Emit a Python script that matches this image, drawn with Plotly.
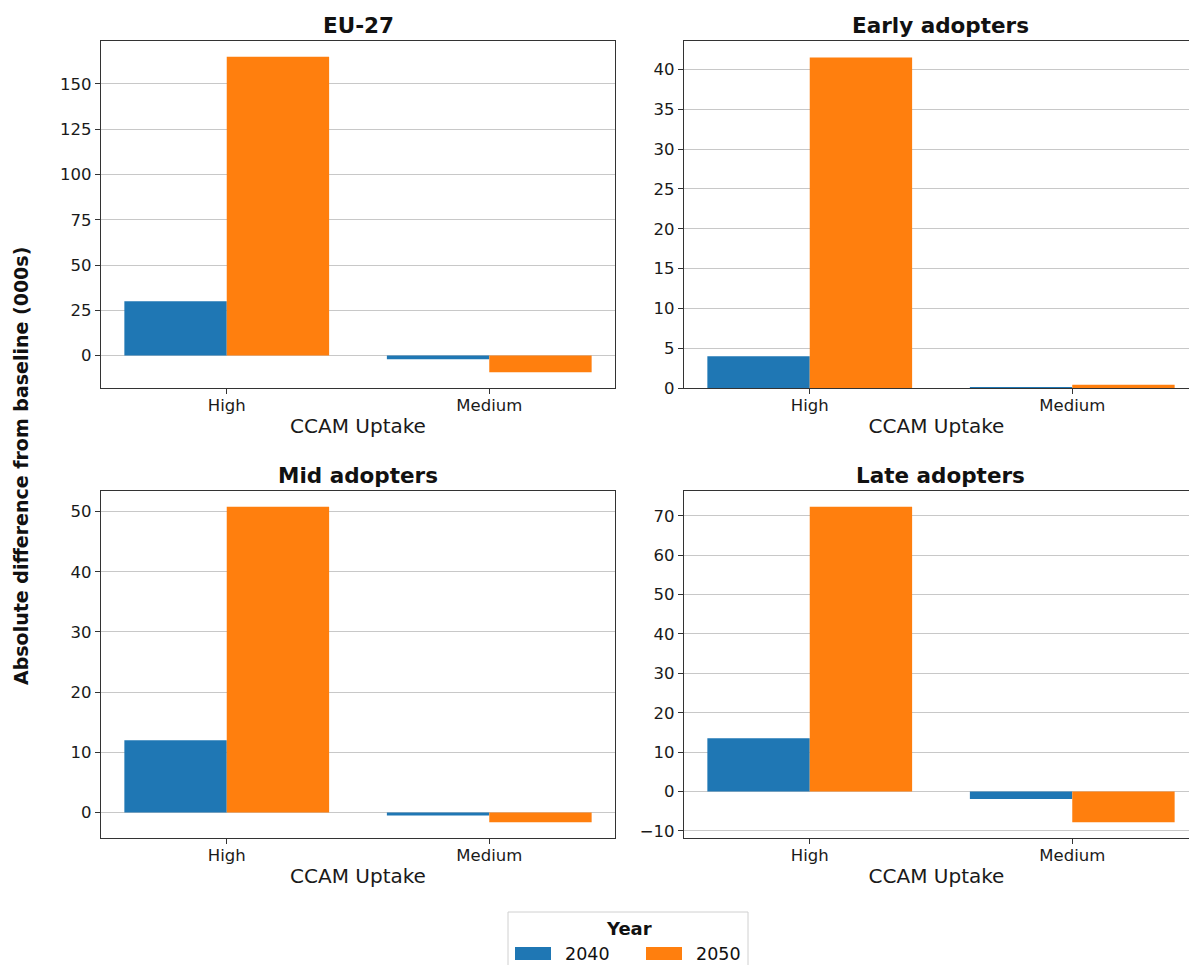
import plotly.graph_objects as go

W, H = 1189, 965

categories = ["High", "Medium"]
years = ["2040", "2050"]
colors = ["#1f77b4", "#ff7f0e"]

panel_titles = ["EU-27", "Early adopters", "Mid adopters", "Late adopters"]
eu27_2040 = [30.0, -2.0]
eu27_2050 = [165.0, -9.2]
early_2040 = [4.0, 0.05]
early_2050 = [41.5, 0.4]
mid_2040 = [12.0, -0.5]
mid_2050 = [50.8, -1.6]
late_2040 = [13.5, -1.9]
late_2050 = [72.3, -7.8]
panel_dticks = [25, 5, 10, 10]

panels = [
    (eu27_2040, eu27_2050),
    (early_2040, early_2050),
    (mid_2040, mid_2050),
    (late_2040, late_2050),
]

# pixel boxes of the four plot areas (left, right, top, bottom); right column is cut by the page edge
PANEL_W = 514
boxes = [
    (101, 101 + PANEL_W, 41, 388),
    (684, 684 + PANEL_W, 41, 388),
    (101, 101 + PANEL_W, 491, 838),
    (684, 684 + PANEL_W, 491, 838),
]

GROUP_W = 0.78  # total width of a dodged bar group (category units)
half = GROUP_W / 2
xspan = (1 + 2 * half) * 1.10
X_LO = -half - 0.05 * (1 + 2 * half)
PX_PER_UNIT = PANEL_W / xspan


def fx(x):
    return x / W


def fy(y):
    return 1 - y / H


FONT = "DejaVu Sans"
AXC = "#333333"
TXT = "#1a1a1a"

fig = go.Figure()
layout = dict(
    width=W, height=H,
    margin=dict(l=0, r=0, t=0, b=0, pad=0, autoexpand=False),
    paper_bgcolor="white", plot_bgcolor="white",
    barmode="group", bargap=1 - GROUP_W, bargroupgap=0,
    showlegend=False,
    font=dict(family=FONT, size=16, color=TXT),
)
annotations = []
shapes = []

for i, ((s40, s50), title, dt, box) in enumerate(zip(panels, panel_titles, panel_dticks, boxes)):
    n = i + 1
    xa = "x" if n == 1 else f"x{n}"
    ya = "y" if n == 1 else f"y{n}"
    for vals, yr, col in zip((s40, s50), years, colors):
        fig.add_trace(go.Bar(
            x=categories, y=vals, name=yr, marker_color=col,
            marker_line_width=0, xaxis=xa, yaxis=ya,
            offsetgroup=yr,
        ))
    allv = list(s40) + list(s50)
    lo = min(0.0, min(allv))
    hi = max(0.0, max(allv))
    span = hi - lo
    rlo = lo - 0.05 * span if lo < 0 else 0.0
    rhi = hi + 0.05 * span
    l, r, t, b = box
    clipped = r > W
    r_vis = min(r, W)
    x_hi = X_LO + (r_vis - l) / PX_PER_UNIT
    xkey = "xaxis" if n == 1 else f"xaxis{n}"
    ykey = "yaxis" if n == 1 else f"yaxis{n}"
    layout[xkey] = dict(
        domain=[fx(l), fx(r_vis)], anchor=ya, range=[X_LO, x_hi],
        showline=True, mirror=True, linecolor=AXC, linewidth=1.2,
        ticks="outside", ticklen=5, tickcolor=AXC, tickwidth=1.2,
        ticklabelstandoff=-3,
        showgrid=False, zeroline=False, automargin=False,
        tickfont=dict(size=16.5, family=FONT, color=TXT),
        title=dict(text="CCAM Uptake", font=dict(size=20, family=FONT, color=TXT), standoff=5),
    )
    layout[ykey] = dict(
        domain=[fy(b), fy(t)], anchor=xa, range=[rlo, rhi],
        showline=True, mirror=(not clipped), linecolor=AXC, linewidth=1.2,
        ticks="outside", ticklen=5, tickcolor=AXC, tickwidth=1.2,
        dtick=dt, tick0=0, automargin=False,
        showgrid=True, gridcolor="#c8c8c8", gridwidth=1, zeroline=False,
        tickfont=dict(size=16.5, family=FONT, color=TXT),
    )
    annotations.append(dict(
        text=f"<b>{title}</b>", x=fx((l + r) / 2), y=fy(t), xref="paper", yref="paper",
        xanchor="center", yanchor="bottom", yshift=1, showarrow=False,
        font=dict(size=21.5, family=FONT, color="#111111"),
    ))

# shared y-axis title
annotations.append(dict(
    text="<b>Absolute difference from baseline (000s)</b>", x=fx(21), y=fy(466),
    xref="paper", yref="paper", xanchor="center", yanchor="middle",
    textangle=-90, showarrow=False, font=dict(size=19, family=FONT, color="#111111"),
))

# legend (drawn manually, matplotlib-style)
shapes.append(dict(type="rect", xref="paper", yref="paper",
                   x0=fx(508), x1=fx(748), y0=fy(985), y1=fy(912),
                   line=dict(color="#d0d0d0", width=1), fillcolor="rgba(255,255,255,0.8)"))
annotations.append(dict(text="<b>Year</b>", x=fx(629), y=fy(928), xref="paper", yref="paper",
                        xanchor="center", yanchor="middle", showarrow=False,
                        font=dict(size=18, family=FONT, color="#111111")))
for (px0, px1, tx), yr, col in zip([(515, 551, 563), (646, 682, 694)], years, colors):
    shapes.append(dict(type="rect", xref="paper", yref="paper",
                       x0=fx(px0), x1=fx(px1), y0=fy(960), y1=fy(947),
                       line=dict(width=0), fillcolor=col))
    annotations.append(dict(text=yr, x=fx(tx), y=fy(954), xref="paper", yref="paper",
                            xanchor="left", yanchor="middle", showarrow=False,
                            font=dict(size=17.5, family=FONT, color="#111111")))

layout["annotations"] = annotations
layout["shapes"] = shapes
fig.update_layout(**layout)
fig.write_html("out.html")
